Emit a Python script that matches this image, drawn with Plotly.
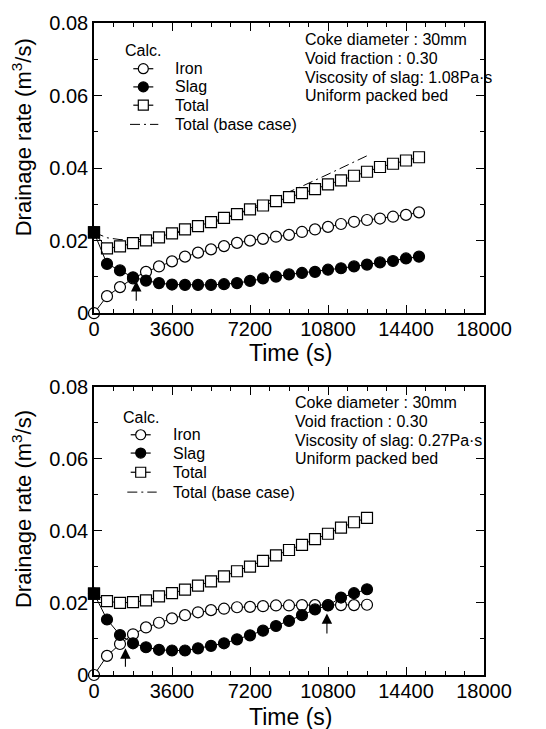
import plotly.graph_objects as go

# ---------------- data ----------------
time_top = [0, 600, 1200, 1800, 2400, 3000, 3600, 4200, 4800, 5400, 6000, 6600, 7200,
            7800, 8400, 9000, 9600, 10200, 10800, 11400, 12000, 12600, 13200, 13800,
            14400, 15000]
iron_top = [0.0, 0.0047, 0.0072, 0.0096, 0.0114, 0.0129, 0.0143, 0.0156, 0.0167, 0.0176,
            0.0185, 0.0194, 0.0200, 0.0205, 0.0211, 0.0216, 0.0224, 0.0231, 0.0238,
            0.0246, 0.0252, 0.0257, 0.0261, 0.0266, 0.0271, 0.0278]
slag_top = [0.0223, 0.0136, 0.0118, 0.0099, 0.0090, 0.0083, 0.0079, 0.0078, 0.0078,
            0.0078, 0.0080, 0.0083, 0.0089, 0.0096, 0.0101, 0.0107, 0.0111, 0.0114,
            0.0120, 0.0124, 0.0129, 0.0134, 0.0140, 0.0144, 0.0151, 0.0156]
total_top = [0.0223, 0.0179, 0.0184, 0.0193, 0.0201, 0.0209, 0.0220, 0.0231, 0.0240,
             0.0251, 0.0263, 0.0273, 0.0286, 0.0297, 0.0309, 0.0320, 0.0331, 0.0342,
             0.0355, 0.0366, 0.0379, 0.0390, 0.0403, 0.0412, 0.0421, 0.0430]
base_time = [0, 600, 1200, 1800, 2400, 3600, 4800, 6000, 7200, 8400, 9600, 10800, 12000, 12600]
base_total = [0.0223, 0.0208, 0.0203, 0.0202, 0.0205, 0.0218, 0.0236, 0.0260, 0.0288,
              0.0318, 0.0350, 0.0383, 0.0418, 0.0434]

time_bot = [0, 600, 1200, 1800, 2400, 3000, 3600, 4200, 4800, 5400, 6000, 6600, 7200,
            7800, 8400, 9000, 9600, 10200, 10800, 11400, 12000, 12600]
iron_bot = [0.0, 0.0053, 0.0086, 0.0113, 0.0132, 0.0145, 0.0157, 0.0166, 0.0174, 0.0180,
            0.0184, 0.0188, 0.0189, 0.0191, 0.0193, 0.0193, 0.0194, 0.0194, 0.0194,
            0.0194, 0.0194, 0.0195]
slag_bot = [0.0226, 0.0154, 0.0111, 0.0088, 0.0077, 0.0070, 0.0068, 0.0068, 0.0074,
            0.0081, 0.0088, 0.0099, 0.0110, 0.0123, 0.0136, 0.0150, 0.0166, 0.0182,
            0.0193, 0.0215, 0.0227, 0.0238]
total_bot = [0.0226, 0.0205, 0.0200, 0.0202, 0.0207, 0.0218, 0.0227, 0.0237, 0.0248,
             0.0260, 0.0274, 0.0288, 0.0301, 0.0317, 0.0332, 0.0347, 0.0361, 0.0377,
             0.0392, 0.0409, 0.0424, 0.0436]

# arrows marking crossing points: (time, tail value, tip value)
arrows_top = [(1950, 0.0030, 0.0089)]
arrows_bot = [(1450, 0.0019, 0.0074), (10750, 0.0111, 0.0171)]

x_ticks = [0, 3600, 7200, 10800, 14400, 18000]
legend_labels = ["Iron", "Slag", "Total", "Total (base case)"]
info_top = ["Coke diameter : 30mm", "Void fraction : 0.30",
            "Viscosity of slag: 1.08Pa·s", "Uniform packed bed"]
info_bot = ["Coke diameter : 30mm", "Void fraction : 0.30",
            "Viscosity of slag: 0.27Pa·s", "Uniform packed bed"]

# ---------------- figure ----------------
FONT = "Liberation Sans, Arial, Helvetica, sans-serif"
W, H = 546, 729
ML, MR, MT, MB = 94, 62, 19, 54
PW, PH = W - ML - MR, H - MT - MB


def px_x(x):
    return (x - ML) / PW


def px_y(y):
    return (H - MB - y) / PH


top_dom = [px_y(311), 1.0]
bot_dom = [0.0, px_y(385)]

fig = go.Figure()
line = dict(color="black", width=1)
open_circle = dict(symbol="circle", size=11, color="white", line=dict(color="black", width=1.2))
filled_circle = dict(symbol="circle", size=11, color="black", line=dict(color="black", width=1.2))
open_square = dict(symbol="square", size=11, color="white", line=dict(color="black", width=1.2))
filled_square = dict(symbol="square", size=11, color="black", line=dict(color="black", width=1.2))


def add_series(xa, ya, t, iron, slag, total, base=None):
    if base is not None:
        fig.add_trace(go.Scatter(x=base[0], y=base[1], mode="lines", xaxis=xa, yaxis=ya,
                                 line=dict(color="black", width=1, dash="10px,4px,2px,4px")))
    fig.add_trace(go.Scatter(x=t, y=total, mode="lines+markers", xaxis=xa, yaxis=ya,
                             line=line, cliponaxis=False, marker=open_square))
    fig.add_trace(go.Scatter(x=t, y=iron, mode="lines+markers", xaxis=xa, yaxis=ya,
                             line=line, cliponaxis=False, marker=open_circle))
    fig.add_trace(go.Scatter(x=t, y=slag, mode="lines+markers", xaxis=xa, yaxis=ya,
                             line=line, cliponaxis=False, marker=filled_circle))
    # starting point of slag/total drawn as a filled square
    fig.add_trace(go.Scatter(x=t[:1], y=slag[:1], mode="markers", xaxis=xa, yaxis=ya,
                             cliponaxis=False, marker=filled_square))


add_series("x", "y", time_top, iron_top, slag_top, total_top, base=(base_time, base_total))
add_series("x2", "y2", time_bot, iron_bot, slag_bot, total_bot)

axis_common = dict(showline=True, linecolor="black", linewidth=1.5, mirror="ticks",
                   ticks="inside", ticklen=8, tickwidth=1.2, tickcolor="black",
                   showgrid=False, zeroline=False,
                   tickfont=dict(family=FONT, size=20, color="black"))
xa = dict(axis_common, range=[0, 18000], tickmode="array", tickvals=x_ticks,
          ticktext=[str(v) for v in x_ticks], ticklabelstandoff=-3,
          minor=dict(ticks="inside", ticklen=4, tickwidth=1, tickcolor="black",
                     tickmode="linear", tick0=0, dtick=900))
ya = dict(axis_common, range=[0, 0.08], tickmode="linear", tick0=0, dtick=0.02,
          minor=dict(ticks="inside", ticklen=4, tickwidth=1, tickcolor="black",
                     tickmode="linear", tick0=0, dtick=0.01))

annotations = []
shapes = []
TXT = dict(family=FONT, size=16, color="black")

panels = [
    dict(ytitle=134, xtitle=351, calc=(123, 46.7), rows=[65, 83.3, 101.7, 121],
         sym=(133.3, 153.3), dd=(130, 158.3), text_x=172.7,
         info=info_top, info_x=302.7, info_y0=36.0),
    dict(ytitle=508, xtitle=717, calc=(120.7, 415.7), rows=[433.3, 451.7, 471, 491],
         sym=(130.7, 150.7), dd=(127.3, 156.7), text_x=171,
         info=info_bot, info_x=293.3, info_y0=401.0),
]

for p in panels:
    annotations.append(dict(text="Drainage rate (m<sup>3</sup>/s)", xref="paper",
                            yref="paper", x=px_x(22), y=px_y(p["ytitle"]), textangle=-90,
                            showarrow=False, xanchor="center", yanchor="middle",
                            font=dict(family=FONT, size=22, color="black")))
    annotations.append(dict(text="Time (s)", xref="paper", yref="paper",
                            x=px_x(290), y=px_y(p["xtitle"]), showarrow=False,
                            xanchor="center", yanchor="middle",
                            font=dict(family=FONT, size=23, color="black")))
    annotations.append(dict(text="Calc.", xref="paper", yref="paper",
                            x=px_x(p["calc"][0]), y=px_y(p["calc"][1]), showarrow=False,
                            xanchor="left", yanchor="middle", font=TXT))
    for i, s in enumerate(p["info"]):
        annotations.append(dict(text=s, xref="paper", yref="paper",
                                x=px_x(p["info_x"]), y=px_y(p["info_y0"] + i * 18.8),
                                showarrow=False, xanchor="left", yanchor="middle",
                                font=TXT))
    # hand-drawn legend
    for lab, ry in zip(legend_labels, p["rows"]):
        annotations.append(dict(text=lab, xref="paper", yref="paper",
                                x=px_x(p["text_x"]), y=px_y(ry), showarrow=False,
                                xanchor="left", yanchor="middle", font=TXT))
    x0, x1 = p["sym"]
    cx = (x0 + x1) / 2
    for k, ry in enumerate(p["rows"][:3]):
        shapes.append(dict(type="line", xref="paper", yref="paper", x0=px_x(x0),
                           x1=px_x(x1), y0=px_y(ry), y1=px_y(ry),
                           line=dict(color="black", width=1.2), layer="above"))
        kind = "circle" if k < 2 else "rect"
        fill = "black" if k == 1 else "white"
        shapes.append(dict(type=kind, xref="paper", yref="paper", xsizemode="pixel",
                           ysizemode="pixel", xanchor=px_x(cx), yanchor=px_y(ry),
                           x0=-5, x1=5, y0=-5, y1=5, fillcolor=fill,
                           line=dict(color="black", width=1.2), layer="above"))
    d0, d1 = p["dd"]
    ry = p["rows"][3]
    shapes.append(dict(type="line", xref="paper", yref="paper", x0=px_x(d0), x1=px_x(d1),
                       y0=px_y(ry), y1=px_y(ry),
                       line=dict(color="black", width=1, dash="10px,4px,2px,4px"),
                       layer="above"))

for axx, axy, arrs in [("x", "y", arrows_top), ("x2", "y2", arrows_bot)]:
    for t, tail, tip in arrs:
        annotations.append(dict(x=t, y=tip, ax=t, ay=tail, xref=axx, yref=axy,
                                axref=axx, ayref=axy, text="", showarrow=True,
                                arrowhead=2, arrowsize=1.9, arrowwidth=1.1,
                                arrowcolor="black", standoff=0, startstandoff=0))

fig.update_layout(
    width=W, height=H, margin=dict(l=ML, r=MR, t=MT, b=MB),
    paper_bgcolor="white", plot_bgcolor="white",
    font=dict(family=FONT, color="black"),
    xaxis=dict(xa, domain=[0, 1], anchor="y"),
    yaxis=dict(ya, domain=top_dom, anchor="x"),
    xaxis2=dict(xa, domain=[0, 1], anchor="y2"),
    yaxis2=dict(ya, domain=bot_dom, anchor="x2"),
    annotations=annotations,
    shapes=shapes,
    showlegend=False,
)

fig.write_html("out.html")
